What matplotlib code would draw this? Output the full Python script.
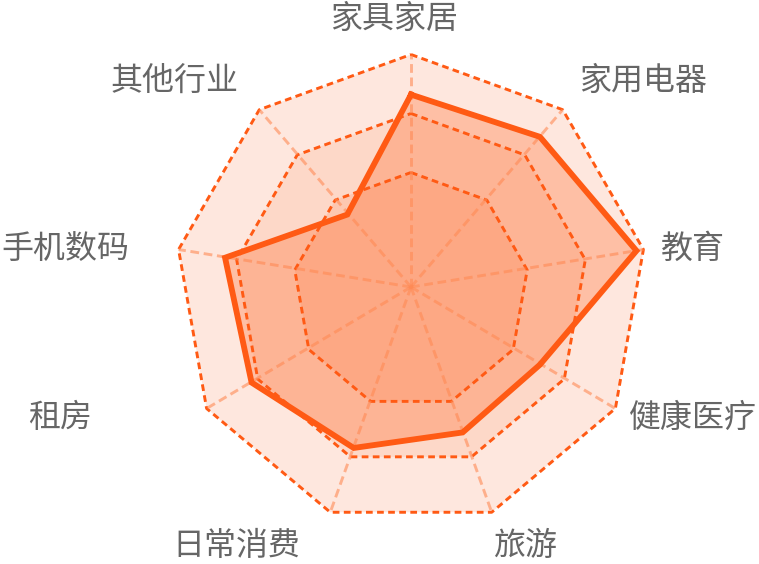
import matplotlib.pyplot as plt
import numpy as np

plt.rcParams['font.family'] = ['Noto Sans CJK SC', 'DejaVu Sans']

# 类别（从正上方开始，顺时针）
categories = ['家具家居', '家用电器', '教育', '健康医疗', '旅游',
              '日常消费', '租房', '手机数码', '其他行业']
values = [83, 85, 97, 63, 64, 71, 78, 80, 42]
max_value = 100
levels = [0.5, 0.75, 1.0]

# 画布布局（像素坐标）
cx, cy, R = 411, 290.5, 236
spoke_cy = 287  # 轴线汇聚点略高于多边形中心
# 标签中心位置（相对于 (cx, 287) 的像素偏移）
label_offsets = [(-17, -268), (232, -206), (282, -38), (282, 131), (114, 259),
                 (-175, 259), (-351, 131), (-346, -37), (-236, -206)]

orange = '#ff5a14'
band_colors = ['#fee7de', '#fdd8c8', '#fdc7b0']

n = len(categories)
theta = np.arange(n) * 2 * np.pi / n


def poly(r):
    r = np.asarray(r, dtype=float)
    x = cx + r * R * np.sin(theta)
    y = cy - r * R * np.cos(theta)
    return np.append(x, x[0]), np.append(y, y[0])


fig = plt.figure(figsize=(7.59, 5.64), dpi=100)
ax = fig.add_axes([0, 0, 1, 1])
ax.set_xlim(0, 759)
ax.set_ylim(564, 0)
ax.axis('off')

# 分隔区域（由外到内）
for lv, col in zip(levels[::-1], band_colors):
    x, y = poly(np.full(n, lv))
    ax.fill(x, y, color=col, lw=0, zorder=1)

# 数据区域
r_data = np.array(values) / max_value
xd, yd = poly(r_data)
ax.fill(xd, yd, color=orange, alpha=0.28, lw=0, zorder=2)

# 网格线
for lv in levels:
    x, y = poly(np.full(n, lv))
    ax.plot(x, y, color=orange, lw=2.1, linestyle=(0, (2.3, 1.5)), zorder=3)

# 轴线
xo, yo = poly(np.ones(n))
for x_end, y_end in zip(xo[:-1], yo[:-1]):
    ax.plot([cx, x_end], [spoke_cy, y_end],
            color='#ff8a55', alpha=0.6, lw=2.1, linestyle=(0, (3.0, 1.6)), zorder=3)

# 数据线
ax.plot(xd, yd, color=orange, lw=4.2, solid_joinstyle='miter', zorder=4)

# 标签
for name, (dx, dy) in zip(categories, label_offsets):
    ax.text(cx + dx, spoke_cy + dy, name, ha='center', va='center',
            fontsize=23, color='#666666')

fig.savefig('out.png', dpi=100)
